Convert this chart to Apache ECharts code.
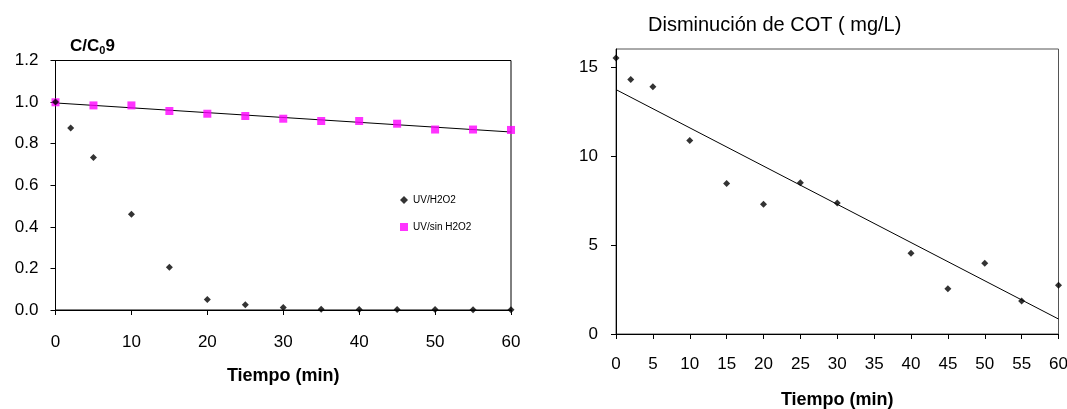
<!DOCTYPE html>
<html>
<head>
<meta charset="utf-8">
<script src="https://cdn.jsdelivr.net/npm/echarts@6/dist/echarts.min.js"></script>
<style>
  html, body { margin: 0; padding: 0; background: #fff; }
  #echart { width: 1067px; height: 409px; }
</style>
</head>
<body>
<div id="echart"></div>
<script>
// datos
let tiempoH2O2 = [0, 2, 5, 10, 15, 20, 25, 30, 35, 40, 45, 50, 55, 60]
let uvH2O2 = [1.0, 0.875, 0.733, 0.46, 0.206, 0.05, 0.025, 0.012, 0.004, 0.003, 0.003, 0.003, 0.001, 0.001]

let tiempoSin = [0, 5, 10, 15, 20, 25, 30, 35, 40, 45, 50, 55, 60]
let uvSinH2O2 = [0.999, 0.984, 0.984, 0.957, 0.944, 0.933, 0.920, 0.909, 0.909, 0.896, 0.868, 0.868, 0.866]

let tiempoCOT = [0, 2, 5, 10, 15, 20, 25, 30, 40, 45, 50, 55, 60]
let cot = [15.49, 14.29, 13.88, 10.86, 8.45, 7.29, 8.49, 7.35, 4.53, 2.54, 3.97, 1.85, 2.74]

let ticksCOT = [0, 5, 10, 15]

let font = 'Liberation Sans, Arial, sans-serif'

// recta de tendencia (minimos cuadrados)
function tendencia(xs, ys, x0, x1) {
    let n = xs.length, sx = 0, sy = 0, sxy = 0, sxx = 0
    for (let i = 0; i < n; i++) {
        sx += xs[i]; sy += ys[i]; sxy += xs[i] * ys[i]; sxx += xs[i] * xs[i]
    }
    let m = (n * sxy - sx * sy) / (n * sxx - sx * sx)
    let b = (sy - m * sx) / n
    return [[x0, b + m * x0], [x1, b + m * x1]]
}

function pares(xs, ys) {
    return xs.map((x, i) => [x, ys[i]])
}

let echart = echarts.init(document.getElementById('echart'))

let axisTxt = { color: '#000', fontFamily: font, fontSize: 17 }
let nameTxt = { color: '#000', fontFamily: font, fontSize: 18, fontWeight: 'bold' }

let option = {
    animation: false,
    title: [
        {
            text: 'C/C{sub|0}9',
            left: 65, top: 32,
            textStyle: {
                color: '#000', fontFamily: font, fontSize: 17, fontWeight: 'bold',
                rich: { sub: { fontFamily: font, fontSize: 11, fontWeight: 'bold', color: '#000', verticalAlign: 'bottom', padding: [8, 0, 0, 0] } }
            }
        },
        {
            text: 'Disminución de COT ( mg/L)',
            left: 643, top: 10,
            textStyle: { color: '#000', fontFamily: font, fontSize: 20, fontWeight: 'normal' }
        }
    ],
    legend: {
        orient: 'vertical',
        left: 395, top: 190,
        itemWidth: 8, itemHeight: 8, itemGap: 17,
        data: [
            { name: 'UV/H2O2', icon: 'diamond' },
            { name: 'UV/sin H2O2', icon: 'rect' }
        ],
        textStyle: { color: '#000', fontFamily: font, fontSize: 10 }
    },
    grid: [
        { left: 55.5, right: 556, top: 60.5, bottom: 99, outerBoundsMode: 'none', containLabel: false,
          show: true, borderColor: '#000', borderWidth: 1 },
        { left: 616, right: 8.5, top: 49, bottom: 75, outerBoundsMode: 'none', containLabel: false,
          show: true, borderColor: '#555', borderWidth: 1 }
    ],
    xAxis: [
        {
            gridIndex: 0, type: 'value', min: 0, max: 60, interval: 10,
            name: 'Tiempo (min)', nameLocation: 'middle', nameGap: 57, nameTextStyle: nameTxt,
            axisLine: { lineStyle: { color: '#000' } },
            axisTick: { length: 5, lineStyle: { color: '#000' } },
            axisLabel: Object.assign({ margin: 24 }, axisTxt),
            splitLine: { show: false }
        },
        {
            gridIndex: 1, type: 'value', min: 0, max: 60, interval: 5,
            name: 'Tiempo (min)', nameLocation: 'middle', nameGap: 57, nameTextStyle: nameTxt,
            axisLine: { lineStyle: { color: '#000' } },
            axisTick: { length: 5, lineStyle: { color: '#000' } },
            axisLabel: Object.assign({ margin: 22 }, axisTxt),
            splitLine: { show: false }
        }
    ],
    yAxis: [
        {
            gridIndex: 0, type: 'value', min: 0, max: 1.2, interval: 0.2,
            axisLine: { show: true, lineStyle: { color: '#000' } },
            axisTick: { show: true, length: 5, lineStyle: { color: '#000' } },
            axisLabel: Object.assign({ margin: 17, formatter: v => v.toFixed(1) }, axisTxt),
            splitLine: { show: false }
        },
        {
            gridIndex: 1, type: 'value', min: 0, max: 16,
            axisLine: { show: true, lineStyle: { color: '#000' } },
            axisTick: { show: true, length: 5, lineStyle: { color: '#000' }, customValues: ticksCOT },
            axisLabel: Object.assign({ margin: 18, customValues: ticksCOT }, axisTxt),
            splitLine: { show: false }
        }
    ],
    series: [
        {
            name: 'tendencia sin H2O2', type: 'line', xAxisIndex: 0, yAxisIndex: 0,
            data: tendencia(tiempoSin, uvSinH2O2, 0, 60),
            showSymbol: false, silent: true,
            lineStyle: { color: '#000', width: 1 }, z: 1
        },
        {
            name: 'UV/sin H2O2', type: 'scatter', xAxisIndex: 0, yAxisIndex: 0,
            data: pares(tiempoSin, uvSinH2O2),
            symbol: 'rect', symbolSize: 8,
            itemStyle: { color: '#ff00ff' }, z: 2
        },
        {
            name: 'UV/H2O2', type: 'scatter', xAxisIndex: 0, yAxisIndex: 0,
            data: pares(tiempoH2O2, uvH2O2),
            symbol: 'diamond', symbolSize: 7,
            itemStyle: { color: '#000' }, z: 3
        },
        {
            name: 'tendencia COT', type: 'line', xAxisIndex: 1, yAxisIndex: 1,
            data: tendencia(tiempoCOT, cot, 0, 60),
            showSymbol: false, silent: true,
            lineStyle: { color: '#000', width: 1 }, z: 1
        },
        {
            name: 'COT', type: 'scatter', xAxisIndex: 1, yAxisIndex: 1,
            data: pares(tiempoCOT, cot),
            symbol: 'diamond', symbolSize: 7,
            itemStyle: { color: '#000' }, z: 3
        }
    ]
}

echart.setOption(option)
</script>
</body>
</html>
